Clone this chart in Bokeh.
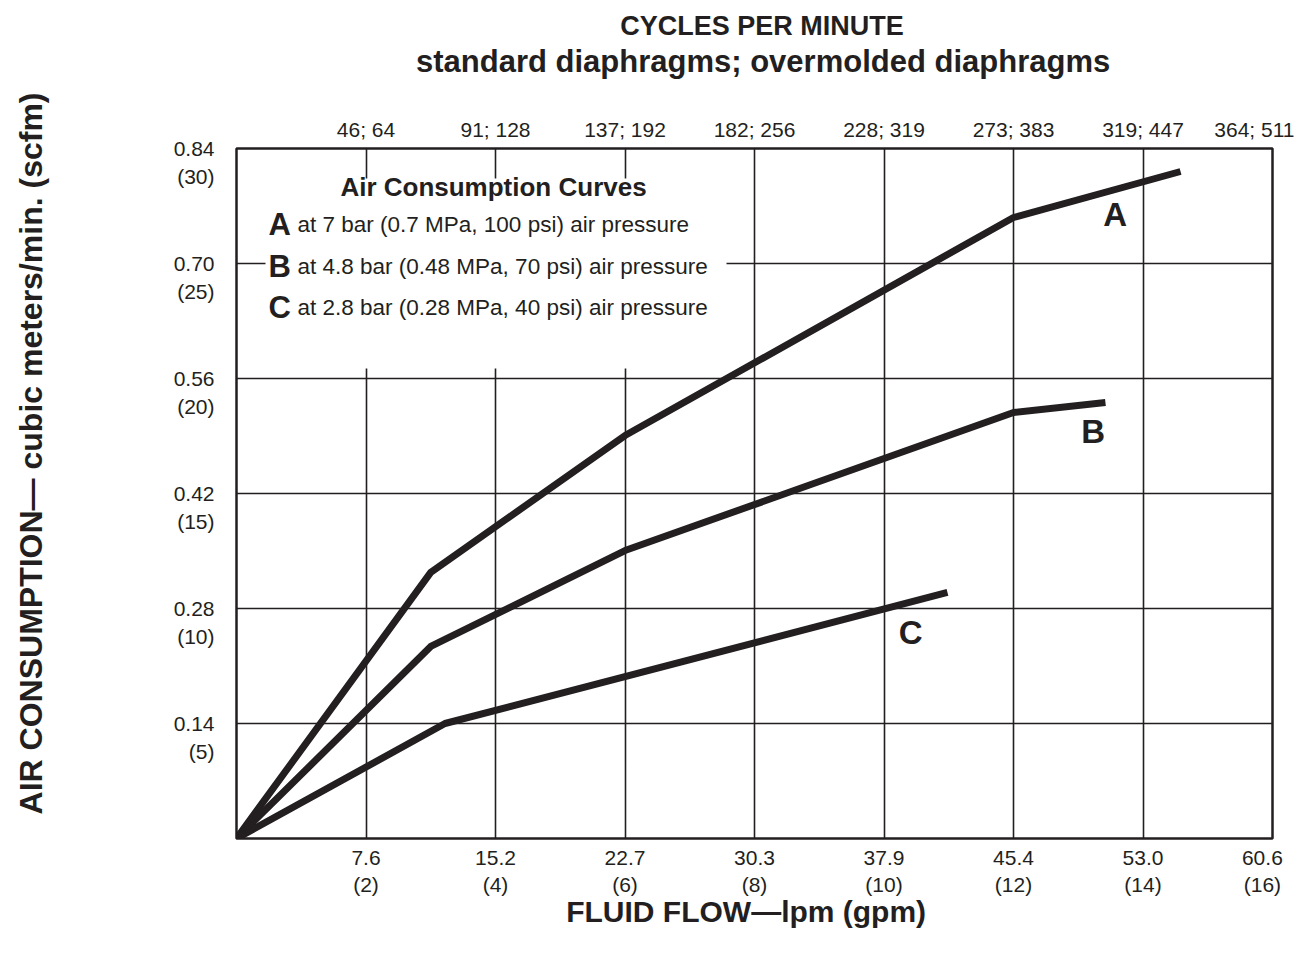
from bokeh.plotting import figure
from bokeh.models import LinearAxis, FixedTicker, Range1d, BoxAnnotation, Label, ColumnDataSource
from bokeh.core.properties import value
from bokeh.embed import file_html
from bokeh.resources import INLINE

# ---- data (fluid flow in gpm, air consumption in scfm) ----
a_gpm = [0, 3.0, 6.0, 12.0, 14.58]
a_scfm = [0, 11.57, 17.52, 27.0, 29.0]
b_gpm = [0, 3.0, 6.0, 12.0, 13.42]
b_scfm = [0, 8.35, 12.52, 18.52, 18.96]
c_gpm = [0, 3.22, 10.98]
c_scfm = [0, 5.0, 10.7]

gpm_ticks = [2, 4, 6, 8, 10, 12, 14, 16]
lpm_labels = ["7.6", "15.2", "22.7", "30.3", "37.9", "45.4", "53.0", "60.6"]
gpm_labels = ["(2)", "(4)", "(6)", "(8)", "(10)", "(12)", "(14)", "(16)"]
cpm_labels = ["46; 64", "91; 128", "137; 192", "182; 256", "228; 319",
              "273; 383", "319; 447", "364; 511"]
scfm_ticks = [5, 10, 15, 20, 25, 30]
m3_labels = ["0.14", "0.28", "0.42", "0.56", "0.70", "0.84"]
scfm_labels = ["(5)", "(10)", "(15)", "(20)", "(25)", "(30)"]

curve_names = ["A", "B", "C"]
curve_label_x = [13.57, 13.23, 10.41]
curve_label_y = [27.13, 17.69, 8.96]

legend_title = "Air Consumption Curves"
legend_texts = ["at 7 bar (0.7 MPa, 100 psi) air pressure",
                "at 4.8 bar (0.48 MPa, 70 psi) air pressure",
                "at 2.8 bar (0.28 MPa, 40 psi) air pressure"]

FONT = "Liberation Sans"
INK = "#231f20"
FS = "\u2007"   # figure space
PS = "\u2008"   # punctuation space

p = figure(width=1294, height=938, x_range=Range1d(0, 16), y_range=Range1d(0, 30),
           output_backend="svg", toolbar_location=None,
           min_border_left=236, min_border_right=22, min_border_top=148, min_border_bottom=100)
p.background_fill_color = "white"
p.border_fill_color = "white"
p.outline_line_color = INK
p.outline_line_width = 2.5

# title (top line of the cycles-per-minute heading)
p.title.text = FS + "CYCLES PER MINUTE"
p.title.align = "center"
p.title.text_font = FONT
p.title.text_font_size = "27px"
p.title.text_font_style = "bold"
p.title.text_color = INK
p.title.standoff = 0

# grids
p.xgrid.ticker = FixedTicker(ticks=gpm_ticks[:-1])
p.ygrid.ticker = FixedTicker(ticks=scfm_ticks[:-1])
for g in (p.xgrid[0], p.ygrid[0]):
    g.grid_line_color = INK
    g.grid_line_width = 1.6

def style_axis(ax, label_size):
    ax.axis_line_color = None
    ax.major_tick_line_color = None
    ax.minor_tick_line_color = None
    ax.major_label_text_font = FONT
    ax.major_label_text_font_size = "21px"
    ax.major_label_text_color = INK
    ax.axis_label_text_font = FONT
    ax.axis_label_text_font_size = label_size
    ax.axis_label_text_font_style = "bold"
    ax.axis_label_text_color = INK

# bottom axis
bx = p.xaxis[0]
style_axis(bx, "30px")
bx.ticker = FixedTicker(ticks=gpm_ticks)
ov = {}
for i, (t, l1, l2) in enumerate(zip(gpm_ticks, lpm_labels, gpm_labels)):
    if i == len(gpm_ticks) - 1:
        ov[t] = l1 + FS + "\n" + l2 + FS
    else:
        ov[t] = l1 + "\n" + l2
bx.major_label_overrides = ov
bx.major_label_standoff = 1
bx.axis_label = "FLUID FLOW\u2014lpm (gpm)" + FS
bx.axis_label_standoff = -4

# left axis
ly = p.yaxis[0]
style_axis(ly, "32px")
ly.ticker = FixedTicker(ticks=scfm_ticks)
ly.major_label_overrides = {t: "\n" + l1 + "\n" + l2 for t, l1, l2 in zip(scfm_ticks, m3_labels, scfm_labels)}
ly.major_label_standoff = 16
ly.axis_label = FS * 4 + PS + "AIR CONSUMPTION\u2014 cubic meters/min. (scfm)"
ly.axis_label_standoff = 122

# top axis
tx = LinearAxis(ticker=FixedTicker(ticks=gpm_ticks))
style_axis(tx, "31px")
tx.major_label_overrides = {t: l for t, l in zip(gpm_ticks, cpm_labels)}
tx.major_label_standoff = 2
tx.axis_label = FS + "standard diaphragms; overmolded diaphragms"
tx.axis_label_standoff = 36
p.add_layout(tx, "above")

# curves
for xs, ys in ((a_gpm, a_scfm), (b_gpm, b_scfm), (c_gpm, c_scfm)):
    p.line(xs, ys, line_color=INK, line_width=7, line_join="round", line_cap="butt")

# curve labels
src = ColumnDataSource(dict(x=curve_label_x, y=curve_label_y, t=curve_names))
p.text(x="x", y="y", text="t", source=src, text_font=value(FONT), text_font_size="33px",
       text_font_style="bold", text_color=INK, text_align="center", text_baseline="alphabetic")

# legend box (white panel covering grid)
box = BoxAnnotation(left=29, right=490, top=660, bottom=470,
                    left_units="screen", right_units="screen", top_units="screen", bottom_units="screen",
                    fill_color="white", fill_alpha=1.0, line_color=None)
p.add_layout(box)

p.add_layout(Label(x=257, y=652, x_units="screen", y_units="screen", text=legend_title,
                   text_font=FONT, text_font_size="26px", text_font_style="bold",
                   text_color=INK, text_align="center", text_baseline="alphabetic"))
base_y = [614, 572, 531]
for name, txt, by in zip(curve_names, legend_texts, base_y):
    p.add_layout(Label(x=32, y=by, x_units="screen", y_units="screen", text=name,
                       text_font=FONT, text_font_size="31px", text_font_style="bold",
                       text_color=INK, text_align="left", text_baseline="alphabetic"))
    p.add_layout(Label(x=61, y=by, x_units="screen", y_units="screen", text=txt,
                       text_font=FONT, text_font_size="22.5px",
                       text_color=INK, text_align="left", text_baseline="alphabetic"))

open("out.html", "w").write(file_html(p, INLINE))
